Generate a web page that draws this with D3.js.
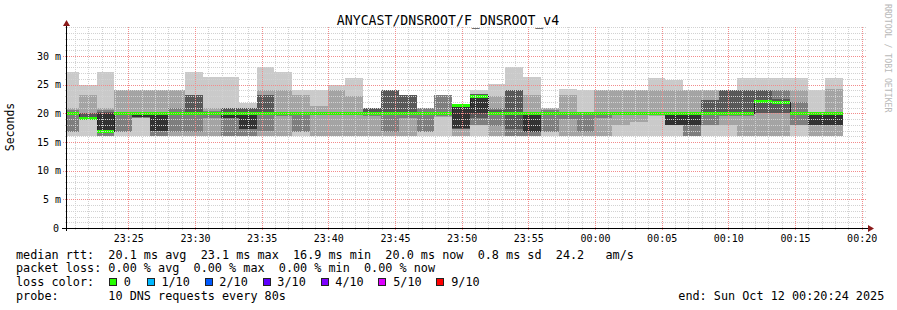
<!DOCTYPE html>
<html>
<head>
<meta charset="utf-8">
<script src="https://cdn.jsdelivr.net/npm/d3@7"></script>
<style>
  body { margin: 0; background: #fff; }
  svg text { font-family: "DejaVu Sans Mono", monospace; white-space: pre; }
</style>
</head>
<body>
<div id="chart"></div>
<script>
// ---- data ----
const title = "ANYCAST/DNSROOT/F_DNSROOT_v4";
const endTime = new Date(Date.UTC(2025, 9, 12, 0, 20, 24));
const startTime = new Date(endTime.getTime() - 3600 * 1000);
const firstStepEnd = new Date(Date.UTC(2025, 9, 11, 23, 21, 17));
const stepSeconds = 80;

// 10 sorted ping times (ms) per 80s step
const pings = [
  [16.0, 16.8, 16.8, 19.8, 19.9, 20.1, 20.3, 20.6, 21.0, 27.2],
  [16.0, 19.0, 19.0, 19.0, 19.1, 19.2, 20.0, 20.0, 23.2, 25.0],
  [16.0, 16.0, 16.0, 16.9, 17.0, 20.0, 20.3, 20.6, 21.0, 27.2],
  [16.0, 16.8, 16.8, 19.9, 19.9, 20.1, 20.1, 20.2, 24.1, 24.1],
  [16.0, 19.2, 19.2, 19.3, 19.3, 20.0, 20.1, 20.2, 24.1, 24.1],
  [16.0, 16.0, 16.0, 17.0, 17.0, 20.0, 20.1, 20.2, 24.1, 24.1],
  [16.0, 16.0, 16.8, 19.8, 19.9, 20.1, 20.2, 20.9, 24.1, 24.1],
  [16.0, 16.0, 16.8, 19.8, 19.9, 20.1, 23.2, 23.2, 23.2, 27.2],
  [16.0, 16.0, 19.2, 19.8, 19.9, 20.1, 20.2, 20.4, 20.9, 26.3],
  [16.0, 16.0, 16.0, 19.1, 19.1, 20.0, 20.9, 20.9, 20.9, 26.3],
  [16.0, 16.0, 16.0, 17.2, 17.2, 20.0, 20.9, 20.9, 20.9, 21.8],
  [16.0, 16.0, 16.9, 19.8, 19.9, 20.1, 23.2, 23.2, 24.1, 28.1],
  [16.0, 16.0, 19.5, 19.8, 19.9, 20.1, 20.2, 20.3, 24.1, 27.2],
  [16.0, 16.8, 16.8, 19.8, 19.9, 20.1, 20.1, 20.2, 23.2, 24.1],
  [16.0, 16.0, 19.8, 19.9, 19.9, 20.1, 20.1, 20.2, 21.2, 24.1],
  [16.0, 16.0, 19.8, 19.9, 19.9, 20.1, 20.1, 20.2, 24.1, 24.9],
  [16.0, 16.0, 19.8, 19.9, 19.9, 20.1, 20.1, 20.2, 23.0, 26.2],
  [16.0, 16.0, 19.5, 19.8, 19.9, 20.1, 20.9, 20.9, 20.9, 20.9],
  [16.0, 16.0, 16.8, 19.8, 19.9, 20.1, 24.1, 24.1, 24.1, 24.1],
  [16.0, 16.0, 19.2, 19.8, 19.9, 20.1, 23.2, 23.2, 23.2, 23.2],
  [16.0, 16.8, 16.8, 19.8, 19.9, 20.1, 20.2, 20.9, 20.9, 20.9],
  [16.0, 19.3, 19.5, 19.8, 19.9, 20.1, 20.2, 23.2, 23.2, 23.2],
  [16.0, 16.0, 17.3, 17.3, 17.4, 21.4, 21.4, 21.4, 21.4, 21.4],
  [16.0, 18.0, 18.0, 19.2, 20.0, 23.1, 23.3, 23.3, 23.3, 24.1],
  [16.0, 16.0, 17.8, 19.8, 19.9, 20.1, 20.5, 20.9, 23.0, 25.1],
  [16.0, 16.0, 16.0, 17.3, 19.9, 20.1, 24.1, 24.1, 24.1, 28.1],
  [16.0, 16.0, 16.0, 16.8, 16.8, 20.0, 20.1, 20.2, 23.2, 26.3],
  [16.0, 16.8, 16.8, 19.8, 19.9, 20.1, 20.2, 20.5, 20.9, 20.9],
  [16.0, 16.0, 19.0, 19.8, 19.9, 20.1, 20.1, 20.2, 23.2, 24.2],
  [16.0, 16.0, 16.8, 19.8, 19.9, 20.1, 20.1, 20.2, 20.3, 24.1],
  [16.0, 16.0, 19.2, 19.8, 19.9, 20.1, 20.1, 20.2, 24.1, 24.1],
  [16.0, 18.0, 19.8, 19.8, 19.9, 20.1, 20.1, 20.2, 24.1, 24.1],
  [16.0, 18.5, 19.8, 19.8, 19.9, 20.1, 20.1, 20.2, 24.1, 24.1],
  [16.0, 19.5, 19.8, 19.8, 19.9, 20.1, 20.1, 20.2, 24.1, 26.2],
  [16.0, 18.0, 18.0, 18.0, 18.0, 20.0, 20.1, 20.2, 24.1, 25.8],
  [16.0, 16.0, 16.0, 18.0, 18.0, 20.0, 20.1, 20.2, 24.1, 24.1],
  [16.0, 18.0, 18.0, 19.8, 19.9, 20.1, 22.3, 22.3, 24.1, 24.1],
  [16.0, 18.0, 19.5, 19.8, 19.9, 20.1, 24.1, 24.1, 24.1, 24.1],
  [16.0, 16.0, 19.5, 19.8, 19.9, 20.1, 24.1, 24.1, 24.1, 26.2],
  [16.0, 16.0, 20.0, 20.0, 22.0, 22.2, 24.1, 24.1, 24.1, 26.2],
  [16.0, 16.0, 20.0, 20.0, 21.8, 21.9, 22.5, 24.1, 24.1, 26.2],
  [16.0, 18.0, 18.0, 19.8, 19.9, 20.1, 20.2, 22.0, 24.1, 26.2],
  [16.0, 16.0, 18.0, 18.0, 18.0, 20.0, 20.1, 20.2, 20.2, 24.1],
  [16.0, 16.0, 18.0, 18.0, 18.0, 20.0, 20.1, 20.2, 24.3, 26.2]
];

// median rtt (ms) per step
const median = [
  20.0, 19.1, 16.9, 20.0, 20.0, 20.0, 20.0, 20.0, 20.0, 20.0, 20.0,
  20.0, 20.0, 20.0, 20.0, 20.0, 20.0, 20.0, 20.0, 20.0, 20.0, 20.0,
  21.4, 23.1, 20.0, 20.0, 20.0, 20.0, 20.0, 20.0, 20.0, 20.0, 20.0,
  20.0, 20.0, 20.0, 20.0, 20.0, 20.0, 22.2, 21.9, 20.0, 20.0, 20.0
];

const yMax = 35;
const yTicks = [0, 5, 10, 15, 20, 25, 30];
const yTickLabels = ["0", "5 m", "10 m", "15 m", "20 m", "25 m", "30 m"];

const rttStats = [["avg", 20.1], ["max", 23.1], ["min", 16.9], ["now", 20.0]];
const rttSd = 0.8;
const rttAmS = 24.2;
const lossStats = [["avg", 0], ["max", 0], ["min", 0], ["now", 0]];
const lossLabels = ["0", "1/10", "2/10", "3/10", "4/10", "5/10", "9/10"];
const lossColors = ["#26ff00", "#00b8ff", "#0059ff", "#5e00ff", "#7e00ff", "#dd00ff", "#ff0000"];
const probeText = "10 DNS requests every 80s";

// ---- layout ----
const width = 897, height = 310;
const plot = { left: 67, right: 867, top: 27, bottom: 228 };

const svg = d3.select("#chart")
  .append("svg")
  .attr("width", width)
  .attr("height", height);

svg.append("rect").attr("width", width).attr("height", height).attr("fill", "#fff");

const x = d3.scaleUtc().domain([startTime, endTime]).range([plot.left, plot.right]);
const y = d3.scaleLinear().domain([0, yMax]).range([plot.bottom, plot.bottom - 5.733 * yMax]);

svg.append("clipPath").attr("id", "plotclip")
  .append("rect")
  .attr("x", plot.left).attr("y", plot.top)
  .attr("width", plot.right - plot.left).attr("height", plot.bottom - plot.top);

// step start/end times
const steps = pings.map((p, i) => {
  const t1 = new Date(firstStepEnd.getTime() + i * stepSeconds * 1000);
  const t0 = new Date(t1.getTime() - stepSeconds * 1000);
  return { t0, t1, p, med: median[i] };
});

const data = svg.append("g").attr("clip-path", "url(#plotclip)");

// smoke: 5 nested layers, lighter outside, darker inside
const half = 5;
for (let i = 0; i < half; i++) {
  const c = Math.floor(190 / half * (half - (i + 1))) + 50;
  data.append("g")
    .attr("shape-rendering", "crispEdges")
    .selectAll("rect")
    .data(steps)
    .enter()
    .append("rect")
    .attr("x", (d) => Math.round(x(d.t0)))
    .attr("width", (d) => Math.round(x(d.t1)) - Math.round(x(d.t0)))
    .attr("y", (d) => Math.round(y(d.p[9 - i])))
    .attr("height", (d) => Math.max(0, Math.round(y(d.p[i])) - Math.round(y(d.p[9 - i]))))
    .attr("fill", d3.rgb(c, c, c).formatHex());
}

// thin dark median line (shows at the steps)
const medPts = [];
steps.forEach((d) => {
  medPts.push([Math.round(x(d.t0)), Math.round(y(d.med))]);
  medPts.push([Math.round(x(d.t1)), Math.round(y(d.med))]);
});
data.append("path")
  .attr("d", d3.line()(medPts.map((p) => [p[0] + 0.5, p[1] + 0.5])))
  .attr("fill", "none")
  .attr("stroke", "#202020")
  .attr("stroke-width", 1)
  .attr("shape-rendering", "crispEdges");

// green median band (0 loss)
data.append("g")
  .attr("shape-rendering", "crispEdges")
  .selectAll("rect")
  .data(steps)
  .enter()
  .append("rect")
  .attr("x", (d) => Math.round(x(d.t0)))
  .attr("width", (d) => Math.round(x(d.t1)) - Math.round(x(d.t0)))
  .attr("y", (d) => Math.round(y(d.med)) - 1)
  .attr("height", 2.5)
  .attr("fill", lossColors[0]);

// ---- grid (dotted, drawn over data like rrdtool) ----
const grid = svg.append("g");
const minorCol = "#d2d2d2";
const majorCol = "#f28c8c";

const hLines = d3.range(1, yMax + 1).map((v) => ({ v, major: v % 5 === 0 && v <= 30 }));
const vLines = d3.utcMinute.range(d3.utcMinute.ceil(startTime), endTime)
  .map((t) => ({ t, major: t.getUTCMinutes() % 5 === 0 }));

// minor first, major on top
[false, true].forEach((isMajor) => {
  hLines.filter((d) => d.major === isMajor).forEach((d) => {
    const py = Math.round(y(d.v)) + 0.5;
    grid.append("line")
      .attr("x1", isMajor ? plot.left - 4 : plot.left - 2)
      .attr("x2", plot.right)
      .attr("y1", py).attr("y2", py)
      .attr("stroke", isMajor ? majorCol : minorCol)
      .attr("stroke-width", 1)
      .attr("stroke-dasharray", "1 1");
  });
  vLines.filter((d) => d.major === isMajor).forEach((d) => {
    const px = Math.round(x(d.t)) + 0.5;
    grid.append("line")
      .attr("x1", px).attr("x2", px)
      .attr("y1", plot.top)
      .attr("y2", plot.bottom + (isMajor ? 3 : 2))
      .attr("stroke", isMajor ? majorCol : minorCol)
      .attr("stroke-width", 1)
      .attr("stroke-dasharray", "1 1");
  });
});

// ---- axes ----
const axes = svg.append("g").attr("shape-rendering", "crispEdges");
axes.append("line")
  .attr("x1", plot.left - 5).attr("x2", plot.right + 3)
  .attr("y1", plot.bottom + 0.5).attr("y2", plot.bottom + 0.5)
  .attr("stroke", "#000");
axes.append("line")
  .attr("x1", plot.left - 0.5).attr("x2", plot.left - 0.5)
  .attr("y1", plot.bottom + 3).attr("y2", plot.top - 2)
  .attr("stroke", "#000");

const arrowCol = "#8b1a1a";
svg.append("path")
  .attr("d", `M${plot.right + 1},${plot.bottom - 3} L${plot.right + 7},${plot.bottom + 0.5} L${plot.right + 1},${plot.bottom + 4} Z`)
  .attr("fill", arrowCol);
svg.append("path")
  .attr("d", `M${plot.left - 4},${plot.top - 1} L${plot.left - 0.5},${plot.top - 7} L${plot.left + 3},${plot.top - 1} Z`)
  .attr("fill", arrowCol);

// y tick labels
svg.append("g")
  .selectAll("text")
  .data(yTicks)
  .enter()
  .append("text")
  .attr("x", (d) => (d === 0 ? 59 : 61))
  .attr("y", (d) => y(d) + 3.6)
  .attr("text-anchor", "end")
  .attr("font-size", 10)
  .attr("fill", "#000")
  .text((d, i) => yTickLabels[i]);

// x tick labels
const fmt = d3.utcFormat("%H:%M");
svg.append("g")
  .selectAll("text")
  .data(d3.utcMinute.every(5).range(d3.utcMinute.ceil(startTime), endTime))
  .enter()
  .append("text")
  .attr("x", (d) => x(d) + 0.5)
  .attr("y", 242)
  .attr("text-anchor", "middle")
  .attr("font-size", 10)
  .attr("fill", "#000")
  .text((d) => fmt(d));

// title and axis label
svg.append("text")
  .attr("x", 448).attr("y", 25)
  .attr("text-anchor", "middle")
  .attr("font-size", 13.2)
  .attr("fill", "#000")
  .text(title);

svg.append("text")
  .attr("transform", "translate(14,127) rotate(-90)")
  .attr("text-anchor", "middle")
  .attr("font-size", 11.5)
  .attr("fill", "#000")
  .text("Seconds");

svg.append("text")
  .attr("transform", "translate(885,4) rotate(90)")
  .attr("font-size", 8.2)
  .attr("fill", "#b8b8b8")
  .text("RRDTOOL / TOBI OETIKER");

// ---- legend ----
const fs = 11.8, cw = fs * 0.6013;
const leg = svg.append("g").attr("font-size", fs).attr("fill", "#000");
const rows = [258.5, 272, 286, 299.5];

const rttLine = "median rtt:  " +
  rttStats.map((s) => `${s[1].toFixed(1)} ms ${s[0]}`).join("  ") +
  `  ${rttSd.toFixed(1)} ms sd  ${rttAmS.toFixed(1)}   am/s`;
const lossLine = "packet loss: " +
  lossStats.map((s) => `${s[1].toFixed(2)} % ${s[0]}`).join("  ");

leg.append("text").attr("x", 16).attr("y", rows[0]).text(rttLine);
leg.append("text").attr("x", 16).attr("y", rows[1]).text(lossLine);
leg.append("text").attr("x", 16).attr("y", rows[2]).text("loss color:");
leg.append("text").attr("x", 16).attr("y", rows[3]).text("probe:       " + probeText);
leg.append("text").attr("x", 678.3).attr("y", rows[3])
  .text("end: " + d3.utcFormat("%a %b %d %H:%M:%S %Y")(endTime));

let bx = 109;
lossLabels.forEach((lab, i) => {
  leg.append("rect")
    .attr("x", bx + 0.5).attr("y", rows[2] - 7.5)
    .attr("width", 7).attr("height", 7)
    .attr("fill", lossColors[i])
    .attr("stroke", "#222")
    .attr("stroke-width", 1)
    .attr("shape-rendering", "crispEdges");
  const lx = bx + 14.8;
  leg.append("text").attr("x", lx).attr("y", rows[2]).text(lab);
  bx = lx + (lab.length + 2) * cw + (lab.length === 1 ? 1.5 : 0.6);
});
</script>
</body>
</html>
